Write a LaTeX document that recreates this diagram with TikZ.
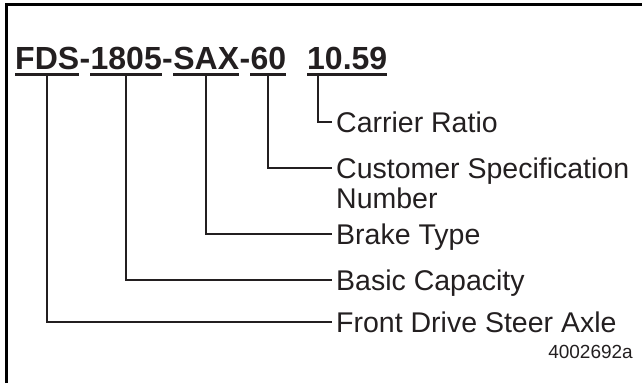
\documentclass[tikz,border=0pt]{standalone}
\usepackage{fontspec}
\setmainfont{Liberation Sans}
\usetikzlibrary{positioning}
\definecolor{ink}{RGB}{35,31,32}
\tikzset{
  codepart/.style={inner sep=0pt, font=\fontsize{32}{34}\selectfont\bfseries, text=ink},
  lbl/.style={anchor=base west, inner xsep=4pt, inner ysep=0pt, align=left,
    font=\fontsize{28.5}{30}\selectfont, text=ink},
  uline/.style={ink, line width=2.2pt},
  conn/.style={ink, line width=2pt},
}
\begin{document}
\begin{tikzpicture}[x=1pt, y=-1pt]
  \useasboundingbox (0,0) rectangle (642,383);
  % frame
  \draw[line width=3pt] (6,383) -- (6,4.5) -- (642,4.5);
  % part number
  \node[codepart, anchor=base west] (axlecode) at (15,69) {FDS};
  \node[codepart, base right=0pt of axlecode] (dash1) {-};
  \node[codepart, base right=0pt of dash1] (capcode) {1805};
  \node[codepart, base right=0pt of capcode] (dash2) {-};
  \node[codepart, base right=0pt of dash2] (brakecode) {SAX};
  \node[codepart, base right=0pt of brakecode] (dash3) {-};
  \node[codepart, base right=0pt of dash3] (speccode) {60};
  \node[codepart, anchor=base west] (ratiocode) at (307,69) {10.59};
  \foreach \n in {axlecode,capcode,brakecode,speccode,ratiocode}
    \draw[uline] ([yshift=-5pt]\n.south west) -- ([yshift=-5pt]\n.south east);
  % meanings
  \node[lbl] (ratio) at (332,132) {Carrier Ratio};
  \node[lbl] (spec) at (332,208) {Customer Specification\\Number};
  \node[lbl] (brake) at (332,244) {Brake Type};
  \node[lbl] (capacity) at (332,290) {Basic Capacity};
  \node[lbl] (axle) at (332,332) {Front Drive Steer Axle};
  \node[anchor=base east, inner sep=0pt, text=ink, font=\fontsize{19}{21}\selectfont]
    (fignum) at (633,358) {4002692a};
  % leaders
  \draw[conn] ([xshift=11pt,yshift=-5pt]ratiocode.south west) |- ([yshift=10pt]ratio.base west);
  \draw[conn] ([yshift=-5pt]speccode.south) |- ([yshift=40pt]spec.base west);
  \draw[conn] ([yshift=-5pt]brakecode.south) |- ([yshift=10pt]brake.base west);
  \draw[conn] ([yshift=-5pt]capcode.south) |- ([yshift=10pt]capacity.base west);
  \draw[conn] ([yshift=-5pt]axlecode.south) |- ([yshift=10pt]axle.base west);
\end{tikzpicture}
\end{document}
